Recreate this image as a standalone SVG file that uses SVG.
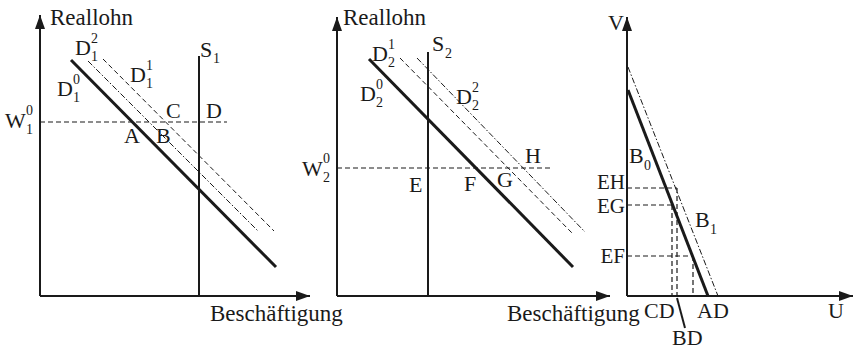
<svg xmlns="http://www.w3.org/2000/svg" width="855" height="349" viewBox="0 0 855 349">
<style>
  .ax{stroke:#1a1a1a;stroke-width:2;fill:none}
  .thick{stroke:#1a1a1a;stroke-width:3;fill:none}
  .sup{stroke:#1a1a1a;stroke-width:2;fill:none}
  .dash{stroke:#1a1a1a;stroke-width:1;stroke-dasharray:5,3;fill:none}
  .hd{stroke:#1a1a1a;stroke-width:1.2;stroke-dasharray:5,3;fill:none}
  .dd{stroke:#1a1a1a;stroke-width:1;stroke-dasharray:6,2,1.5,2;fill:none}
  text{font-family:"Liberation Serif","Times New Roman",serif;fill:#1a1a1a}
  .t{font-size:22px}
  .e{font-size:21px}
  .big{font-size:23px}
  .s{font-size:14px}
</style>
<defs>
  <marker id="arr" viewBox="0 0 14 10" refX="14" refY="5" markerWidth="14" markerHeight="10" orient="auto" markerUnits="userSpaceOnUse">
    <path d="M0,0 L14,5 L0,10 z" fill="#1a1a1a"/>
  </marker>
</defs>

<g id="panel1">
  <g id="axes1">
    <line class="ax" x1="40" y1="296" x2="40" y2="15" marker-end="url(#arr)"/>
    <line class="ax" x1="40" y1="296" x2="310" y2="296" marker-end="url(#arr)"/>
  </g>
  <g id="curves1">
    <line class="sup" x1="199" y1="56" x2="199" y2="296"/>
    <line class="thick" x1="71" y1="60" x2="276" y2="267"/>
    <line class="dd" x1="88" y1="61" x2="258" y2="231"/>
    <line class="dash" x1="103" y1="59" x2="274" y2="231"/>
    <line class="hd" x1="40" y1="122" x2="227" y2="122"/>
  </g>
  <g id="labels1">
    <text class="big" x="50" y="25">Reallohn</text>
    <text class="t" x="75" y="55">D</text><text class="s" x="91" y="43">2</text><text class="s" x="91" y="61">1</text>
    <text class="t" x="57" y="96">D</text><text class="s" x="73" y="84">0</text><text class="s" x="73" y="102">1</text>
    <text class="t" x="130" y="82">D</text><text class="s" x="146" y="70">1</text><text class="s" x="146" y="88">1</text>
    <text class="t" x="200" y="57">S</text><text class="s" x="213" y="63">1</text>
    <text class="t" x="166" y="118">C</text>
    <text class="t" x="206" y="118">D</text>
    <text class="t" x="124" y="143">A</text>
    <text class="t" x="156" y="143">B</text>
    <text class="t" x="5" y="128">W</text><text class="s" x="26" y="115">0</text><text class="s" x="26" y="134">1</text>
    <text class="big" x="210" y="321">Beschäftigung</text>
  </g>
</g>

<g id="panel2">
  <g id="axes2">
    <line class="ax" x1="337" y1="296" x2="337" y2="17" marker-end="url(#arr)"/>
    <line class="ax" x1="337" y1="296" x2="610" y2="296" marker-end="url(#arr)"/>
  </g>
  <g id="curves2">
    <line class="sup" x1="428" y1="52" x2="428" y2="296"/>
    <line class="thick" x1="369" y1="59" x2="573" y2="267"/>
    <line class="dash" x1="400" y1="58" x2="572" y2="233"/>
    <line class="dd" x1="417" y1="58" x2="585" y2="232"/>
    <line class="hd" x1="337" y1="168" x2="550" y2="168"/>
  </g>
  <g id="labels2">
    <text class="big" x="343" y="25">Reallohn</text>
    <text class="t" x="372" y="61">D</text><text class="s" x="388" y="49">1</text><text class="s" x="388" y="67">2</text>
    <text class="t" x="432" y="51">S</text><text class="s" x="445" y="58">2</text>
    <text class="t" x="360" y="101">D</text><text class="s" x="376" y="89">0</text><text class="s" x="376" y="107">2</text>
    <text class="t" x="456" y="104">D</text><text class="s" x="472" y="92">2</text><text class="s" x="472" y="110">2</text>
    <text class="t" x="525" y="163">H</text>
    <text class="t" x="409" y="192">E</text>
    <text class="t" x="464" y="191">F</text>
    <text class="t" x="497" y="187">G</text>
    <text class="t" x="302" y="176">W</text><text class="s" x="323" y="163">0</text><text class="s" x="323" y="182">2</text>
    <text class="big" x="507" y="321">Beschäftigung</text>
  </g>
</g>

<g id="panel3">
  <g id="axes3">
    <line class="ax" x1="627" y1="296" x2="627" y2="17" marker-end="url(#arr)"/>
    <line class="ax" x1="627" y1="296" x2="853" y2="296" marker-end="url(#arr)"/>
  </g>
  <g id="curves3">
    <line class="thick" x1="628" y1="90" x2="708" y2="296"/>
    <line class="dd" x1="628" y1="67" x2="718" y2="296"/>
    <line class="hd" x1="627" y1="188" x2="677" y2="188"/>
    <line class="hd" x1="627" y1="205" x2="673" y2="205"/>
    <line class="hd" x1="627" y1="256" x2="693" y2="256"/>
    <line class="hd" x1="672" y1="205" x2="672" y2="296"/>
    <line class="hd" x1="677" y1="188" x2="677" y2="296"/>
    <line class="hd" x1="693" y1="256" x2="693" y2="296"/>
    <line class="sup" x1="677" y1="298" x2="685" y2="328"/>
  </g>
  <g id="labels3">
    <text class="t" x="608" y="30">V</text>
    <text class="t" x="629" y="163">B</text><text class="s" x="644" y="170">0</text>
    <text class="t" x="695" y="227">B</text><text class="s" x="710" y="234">1</text>
    <text class="e" x="625" y="189" text-anchor="end">EH</text>
    <text class="e" x="625" y="213" text-anchor="end">EG</text>
    <text class="e" x="625" y="263" text-anchor="end">EF</text>
    <text class="t" x="644" y="318">CD</text>
    <text class="t" x="697" y="318">AD</text>
    <text class="t" x="672" y="345">BD</text>
    <text class="t" x="828" y="318">U</text>
  </g>
</g>
</svg>
